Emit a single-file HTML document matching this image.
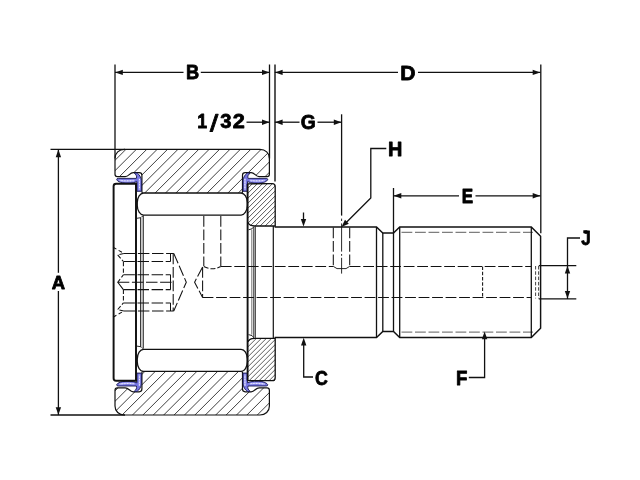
<!DOCTYPE html>
<html><head><meta charset="utf-8"><title>Cam follower dimensions</title>
<style>
html,body{margin:0;padding:0;background:#fff;}
body{width:640px;height:480px;overflow:hidden;font-family:"Liberation Sans",sans-serif;}
svg{display:block;will-change:transform;transform:translateZ(0);}
</style></head><body>
<svg role="img" aria-label="Cam follower dimension diagram: A, B, 1/32, C, D, E, F, G, H, J" width="640" height="480" viewBox="0 0 640 480">
<defs>
<clipPath id="cr1"><path d="M124.5,149.4 L259.9,149.4 C265.4,149.4 269.4,153 269.4,158.5 L269.4,174.2 Q269.4,176.6 267.1,176.6 L259.2,176.6 C255.4,176.6 254.9,172.6 251.1,172.6 L245.2,172.6 Q242.5,172.6 242.5,175.3 L242.5,192 Q242.5,193 241.4,193 L143,193 Q141.9,193 141.9,192 L141.9,175.3 Q141.9,172.6 139.2,172.6 L133.3,172.6 C129.5,172.6 129,176.6 125.2,176.6 L117.3,176.6 Q115,176.6 115,174.2 L115,158.5 C115,153 119,149.4 124.5,149.4 Z"/></clipPath>
<clipPath id="cr2"><path d="M124.5,415.0 L259.9,415.0 C265.4,415.0 269.4,411.4 269.4,405.9 L269.4,390.2 Q269.4,387.8 267.1,387.8 L259.2,387.8 C255.4,387.8 254.9,391.8 251.1,391.8 L245.2,391.8 Q242.5,391.8 242.5,389.1 L242.5,372.4 Q242.5,371.4 241.4,371.4 L143,371.4 Q141.9,371.4 141.9,372.4 L141.9,389.1 Q141.9,391.8 139.2,391.8 L133.3,391.8 C129.5,391.8 129,387.8 125.2,387.8 L117.3,387.8 Q115,387.8 115,390.2 L115,405.9 C115,411.4 119,415.0 124.5,415.0 Z"/></clipPath>
<clipPath id="cf1"><rect x="248" y="183.5" width="27.2" height="42.5"/></clipPath>
<clipPath id="cf2"><rect x="248" y="338.4" width="27.2" height="42.5"/></clipPath>
</defs>
<g clip-path="url(#cr1)" stroke="#2a2a2a" stroke-width="0.9"><line x1="50.10" y1="194" x2="96.10" y2="148"/><line x1="60.50" y1="194" x2="106.50" y2="148"/><line x1="70.90" y1="194" x2="116.90" y2="148"/><line x1="81.30" y1="194" x2="127.30" y2="148"/><line x1="91.70" y1="194" x2="137.70" y2="148"/><line x1="102.10" y1="194" x2="148.10" y2="148"/><line x1="112.50" y1="194" x2="158.50" y2="148"/><line x1="122.90" y1="194" x2="168.90" y2="148"/><line x1="133.30" y1="194" x2="179.30" y2="148"/><line x1="143.70" y1="194" x2="189.70" y2="148"/><line x1="154.10" y1="194" x2="200.10" y2="148"/><line x1="164.50" y1="194" x2="210.50" y2="148"/><line x1="174.90" y1="194" x2="220.90" y2="148"/><line x1="185.30" y1="194" x2="231.30" y2="148"/><line x1="195.70" y1="194" x2="241.70" y2="148"/><line x1="206.10" y1="194" x2="252.10" y2="148"/><line x1="216.50" y1="194" x2="262.50" y2="148"/><line x1="226.90" y1="194" x2="272.90" y2="148"/><line x1="237.30" y1="194" x2="283.30" y2="148"/><line x1="247.70" y1="194" x2="293.70" y2="148"/><line x1="258.10" y1="194" x2="304.10" y2="148"/><line x1="268.50" y1="194" x2="314.50" y2="148"/><line x1="278.90" y1="194" x2="324.90" y2="148"/><line x1="289.30" y1="194" x2="335.30" y2="148"/></g>
<g clip-path="url(#cr2)" stroke="#2a2a2a" stroke-width="0.9"><line x1="47.90" y1="416.4" x2="93.90" y2="370.4"/><line x1="58.30" y1="416.4" x2="104.30" y2="370.4"/><line x1="68.70" y1="416.4" x2="114.70" y2="370.4"/><line x1="79.10" y1="416.4" x2="125.10" y2="370.4"/><line x1="89.50" y1="416.4" x2="135.50" y2="370.4"/><line x1="99.90" y1="416.4" x2="145.90" y2="370.4"/><line x1="110.30" y1="416.4" x2="156.30" y2="370.4"/><line x1="120.70" y1="416.4" x2="166.70" y2="370.4"/><line x1="131.10" y1="416.4" x2="177.10" y2="370.4"/><line x1="141.50" y1="416.4" x2="187.50" y2="370.4"/><line x1="151.90" y1="416.4" x2="197.90" y2="370.4"/><line x1="162.30" y1="416.4" x2="208.30" y2="370.4"/><line x1="172.70" y1="416.4" x2="218.70" y2="370.4"/><line x1="183.10" y1="416.4" x2="229.10" y2="370.4"/><line x1="193.50" y1="416.4" x2="239.50" y2="370.4"/><line x1="203.90" y1="416.4" x2="249.90" y2="370.4"/><line x1="214.30" y1="416.4" x2="260.30" y2="370.4"/><line x1="224.70" y1="416.4" x2="270.70" y2="370.4"/><line x1="235.10" y1="416.4" x2="281.10" y2="370.4"/><line x1="245.50" y1="416.4" x2="291.50" y2="370.4"/><line x1="255.90" y1="416.4" x2="301.90" y2="370.4"/><line x1="266.30" y1="416.4" x2="312.30" y2="370.4"/><line x1="276.70" y1="416.4" x2="322.70" y2="370.4"/><line x1="287.10" y1="416.4" x2="333.10" y2="370.4"/></g>
<g clip-path="url(#cf1)" stroke="#484848" stroke-width="0.9"><line x1="194.10" y1="227" x2="238.10" y2="183"/><line x1="199.10" y1="227" x2="243.10" y2="183"/><line x1="204.10" y1="227" x2="248.10" y2="183"/><line x1="209.10" y1="227" x2="253.10" y2="183"/><line x1="214.10" y1="227" x2="258.10" y2="183"/><line x1="219.10" y1="227" x2="263.10" y2="183"/><line x1="224.10" y1="227" x2="268.10" y2="183"/><line x1="229.10" y1="227" x2="273.10" y2="183"/><line x1="234.10" y1="227" x2="278.10" y2="183"/><line x1="239.10" y1="227" x2="283.10" y2="183"/><line x1="244.10" y1="227" x2="288.10" y2="183"/><line x1="249.10" y1="227" x2="293.10" y2="183"/><line x1="254.10" y1="227" x2="298.10" y2="183"/><line x1="259.10" y1="227" x2="303.10" y2="183"/><line x1="264.10" y1="227" x2="308.10" y2="183"/><line x1="269.10" y1="227" x2="313.10" y2="183"/><line x1="274.10" y1="227" x2="318.10" y2="183"/><line x1="279.10" y1="227" x2="323.10" y2="183"/><line x1="284.10" y1="227" x2="328.10" y2="183"/></g>
<g clip-path="url(#cf2)" stroke="#484848" stroke-width="0.9"><line x1="193.35" y1="381.4" x2="237.35" y2="337.4"/><line x1="198.35" y1="381.4" x2="242.35" y2="337.4"/><line x1="203.35" y1="381.4" x2="247.35" y2="337.4"/><line x1="208.35" y1="381.4" x2="252.35" y2="337.4"/><line x1="213.35" y1="381.4" x2="257.35" y2="337.4"/><line x1="218.35" y1="381.4" x2="262.35" y2="337.4"/><line x1="223.35" y1="381.4" x2="267.35" y2="337.4"/><line x1="228.35" y1="381.4" x2="272.35" y2="337.4"/><line x1="233.35" y1="381.4" x2="277.35" y2="337.4"/><line x1="238.35" y1="381.4" x2="282.35" y2="337.4"/><line x1="243.35" y1="381.4" x2="287.35" y2="337.4"/><line x1="248.35" y1="381.4" x2="292.35" y2="337.4"/><line x1="253.35" y1="381.4" x2="297.35" y2="337.4"/><line x1="258.35" y1="381.4" x2="302.35" y2="337.4"/><line x1="263.35" y1="381.4" x2="307.35" y2="337.4"/><line x1="268.35" y1="381.4" x2="312.35" y2="337.4"/><line x1="273.35" y1="381.4" x2="317.35" y2="337.4"/><line x1="278.35" y1="381.4" x2="322.35" y2="337.4"/><line x1="283.35" y1="381.4" x2="327.35" y2="337.4"/></g>
<path d="M124.5,149.4 L259.9,149.4 C265.4,149.4 269.4,153 269.4,158.5 L269.4,174.2 Q269.4,176.6 267.1,176.6 L259.2,176.6 C255.4,176.6 254.9,172.6 251.1,172.6 L245.2,172.6 Q242.5,172.6 242.5,175.3 L242.5,192 Q242.5,193 241.4,193 L143,193 Q141.9,193 141.9,192 L141.9,175.3 Q141.9,172.6 139.2,172.6 L133.3,172.6 C129.5,172.6 129,176.6 125.2,176.6 L117.3,176.6 Q115,176.6 115,174.2 L115,158.5 C115,153 119,149.4 124.5,149.4 Z" stroke="#111" stroke-width="1.2" fill="none" />
<path d="M124.5,415.0 L259.9,415.0 C265.4,415.0 269.4,411.4 269.4,405.9 L269.4,390.2 Q269.4,387.8 267.1,387.8 L259.2,387.8 C255.4,387.8 254.9,391.8 251.1,391.8 L245.2,391.8 Q242.5,391.8 242.5,389.1 L242.5,372.4 Q242.5,371.4 241.4,371.4 L143,371.4 Q141.9,371.4 141.9,372.4 L141.9,389.1 Q141.9,391.8 139.2,391.8 L133.3,391.8 C129.5,391.8 129,387.8 125.2,387.8 L117.3,387.8 Q115,387.8 115,390.2 L115,405.9 C115,411.4 119,415.0 124.5,415.0 Z" stroke="#111" stroke-width="1.2" fill="none" />
<path d="M116.7,179.8 Q116.5,178.4 118.2,178.4 L136.3,178.4 C137.2,176.4 136,174.4 134.2,173 L137.2,173 C139.2,174.6 141.2,177.2 141.4,180.6 L141.4,191.3 L136.9,191.3 L136.9,181.6 C134,183.3 126,183.7 122.5,182.9 C120,182.3 117.6,181.4 116.7,179.8 Z" fill="#7676e2" stroke="#15154a" stroke-width="0.9" stroke-linejoin="round"/>
<path d="M120,180.4 Q127,181.6 134,180.6" stroke="#c9c9fb" stroke-width="1.5" stroke-linecap="round" fill="none" opacity="0.85"/>
<path d="M121.5,180.6 L133.5,181" stroke="#f2f2ff" stroke-width="0.9" stroke-dasharray="1.2 1.6" fill="none"/>
<path d="M139.4,178.5 L139.4,189.8" stroke="#c9c9fb" stroke-width="1.6" fill="none" opacity="0.7"/>
<path d="M139.5,179 L139.5,189.5" stroke="#f2f2ff" stroke-width="1.0" stroke-dasharray="1.1 1.5" fill="none"/>
<path d="M267.7,179.8 Q267.9,178.4 266.2,178.4 L248.1,178.4 C247.2,176.4 248.4,174.4 250.2,173 L247.2,173 C245.2,174.6 243.2,177.2 243.0,180.6 L243.0,191.3 L247.5,191.3 L247.5,181.6 C250.4,183.3 258.4,183.7 261.9,182.9 C264.4,182.3 266.8,181.4 267.7,179.8 Z" fill="#7676e2" stroke="#15154a" stroke-width="0.9" stroke-linejoin="round"/>
<path d="M264.4,180.4 Q257.4,181.6 250.4,180.6" stroke="#c9c9fb" stroke-width="1.5" stroke-linecap="round" fill="none" opacity="0.85"/>
<path d="M262.9,180.6 L250.9,181" stroke="#f2f2ff" stroke-width="0.9" stroke-dasharray="1.2 1.6" fill="none"/>
<path d="M245.0,178.5 L245.0,189.8" stroke="#c9c9fb" stroke-width="1.6" fill="none" opacity="0.7"/>
<path d="M244.9,179 L244.9,189.5" stroke="#f2f2ff" stroke-width="1.0" stroke-dasharray="1.1 1.5" fill="none"/>
<path d="M116.7,384.6 Q116.5,386.0 118.2,386.0 L136.3,386.0 C137.2,388.0 136,390.0 134.2,391.4 L137.2,391.4 C139.2,389.8 141.2,387.2 141.4,383.8 L141.4,373.1 L136.9,373.1 L136.9,382.8 C134,381.1 126,380.7 122.5,381.5 C120,382.1 117.6,383.0 116.7,384.6 Z" fill="#7676e2" stroke="#15154a" stroke-width="0.9" stroke-linejoin="round"/>
<path d="M120,384.0 Q127,382.8 134,383.8" stroke="#c9c9fb" stroke-width="1.5" stroke-linecap="round" fill="none" opacity="0.85"/>
<path d="M121.5,383.8 L133.5,383.4" stroke="#f2f2ff" stroke-width="0.9" stroke-dasharray="1.2 1.6" fill="none"/>
<path d="M139.4,385.9 L139.4,374.6" stroke="#c9c9fb" stroke-width="1.6" fill="none" opacity="0.7"/>
<path d="M139.5,385.4 L139.5,374.9" stroke="#f2f2ff" stroke-width="1.0" stroke-dasharray="1.1 1.5" fill="none"/>
<path d="M267.7,384.6 Q267.9,386.0 266.2,386.0 L248.1,386.0 C247.2,388.0 248.4,390.0 250.2,391.4 L247.2,391.4 C245.2,389.8 243.2,387.2 243.0,383.8 L243.0,373.1 L247.5,373.1 L247.5,382.8 C250.4,381.1 258.4,380.7 261.9,381.5 C264.4,382.1 266.8,383.0 267.7,384.6 Z" fill="#7676e2" stroke="#15154a" stroke-width="0.9" stroke-linejoin="round"/>
<path d="M264.4,384.0 Q257.4,382.8 250.4,383.8" stroke="#c9c9fb" stroke-width="1.5" stroke-linecap="round" fill="none" opacity="0.85"/>
<path d="M262.9,383.8 L250.9,383.4" stroke="#f2f2ff" stroke-width="0.9" stroke-dasharray="1.2 1.6" fill="none"/>
<path d="M245.0,385.9 L245.0,374.6" stroke="#c9c9fb" stroke-width="1.6" fill="none" opacity="0.7"/>
<path d="M244.9,385.4 L244.9,374.9" stroke="#f2f2ff" stroke-width="1.0" stroke-dasharray="1.1 1.5" fill="none"/>
<path d="M113.6,378.2 L113.6,186.2 Q113.6,183.7 116.1,183.7 L136,183.7 L136,380.7 L116.1,380.7 Q113.6,380.7 113.6,378.2" stroke="#111" stroke-width="1.95" fill="none" />
<rect x="137.3" y="193.0" width="110" height="22.0" rx="6.2" ry="9.6" fill="#fff" stroke="#111" stroke-width="1.25"/>
<rect x="137.3" y="349.4" width="110" height="22.0" rx="6.2" ry="9.6" fill="#fff" stroke="#111" stroke-width="1.25"/>
<path d="M136.8,218.3 Q141.5,218.5 143.6,215.4" stroke="#111" stroke-width="0.9" fill="none" />
<path d="M136.8,346.1 Q141.5,345.9 143.6,349.0" stroke="#111" stroke-width="0.9" fill="none" />
<rect x="140.6" y="217" width="2.7" height="130.4" fill="#dadada"/>
<line x1="140.6" y1="217.3" x2="140.6" y2="347.1" stroke="#111" stroke-width="0.9" />
<line x1="143.3" y1="216" x2="143.3" y2="348.4" stroke="#111" stroke-width="0.9" />
<line x1="247.6" y1="183.8" x2="247.6" y2="380.6" stroke="#111" stroke-width="1.9" />
<path d="M247.8,183.8 L272.2,183.7 Q275.2,183.7 275.2,186.7 L275.2,226 L254.5,226 Q249.2,225.8 247.9,222.6" stroke="#111" stroke-width="1.3" fill="none" />
<path d="M248.5,229.8 Q253,229.4 253.9,226.5" stroke="#111" stroke-width="0.9" fill="none" />
<path d="M247.8,380.6 L272.2,380.7 Q275.2,380.7 275.2,377.7 L275.2,338.4 L254.5,338.4 Q249.2,338.6 247.9,341.8" stroke="#111" stroke-width="1.3" fill="none" />
<path d="M248.5,334.6 Q253,335.0 253.9,337.9" stroke="#111" stroke-width="0.9" fill="none" />
<line x1="273.3" y1="226" x2="273.3" y2="338.4" stroke="#111" stroke-width="1.2" />
<line x1="251.8" y1="229.8" x2="251.8" y2="334.6" stroke="#111" stroke-width="0.6" />
<line x1="253.8" y1="227" x2="253.8" y2="337.4" stroke="#111" stroke-width="0.9" />
<line x1="255.3" y1="226.5" x2="255.3" y2="337.9" stroke="#111" stroke-width="0.9" />
<path d="M274.6,227.0 L376.5,227.0 L382.8,233.0 L393.5,233.0 L399.7,227.0 L531.3,227.0 L540.6,236.2 L540.6,328.2 L531.3,337.4 L399.7,337.4 L393.5,331.4 L382.8,331.4 L376.5,337.4 L274.6,337.4" stroke="#111" stroke-width="1.45" fill="none" />
<line x1="376.5" y1="227.0" x2="376.5" y2="337.4" stroke="#111" stroke-width="1.3" />
<line x1="382.8" y1="233.0" x2="382.8" y2="331.4" stroke="#111" stroke-width="1.3" />
<line x1="393.5" y1="233.0" x2="393.5" y2="331.4" stroke="#111" stroke-width="1.3" />
<line x1="399.7" y1="227.0" x2="399.7" y2="337.4" stroke="#111" stroke-width="1.3" />
<line x1="531.3" y1="227.0" x2="531.3" y2="337.4" stroke="#111" stroke-width="1.3" />
<line x1="401.5" y1="232.3" x2="533" y2="232.3" stroke="#111" stroke-width="0.85" stroke-dasharray="10.8 2.7" opacity="0.8"/>
<line x1="401.5" y1="332.1" x2="533" y2="332.1" stroke="#111" stroke-width="0.85" stroke-dasharray="10.8 2.7" opacity="0.8"/>
<line x1="220.8" y1="266.4" x2="333.3" y2="266.4" stroke="#111" stroke-width="1.05" stroke-dasharray="10.8 2.7"/>
<line x1="349.7" y1="266.4" x2="531" y2="266.4" stroke="#111" stroke-width="1.05" stroke-dasharray="10.8 2.7"/>
<line x1="202.6" y1="297.5" x2="531" y2="297.5" stroke="#111" stroke-width="1.05" stroke-dasharray="10.8 2.7"/>
<line x1="482.6" y1="266.4" x2="482.6" y2="298.0" stroke="#111" stroke-width="1.05" stroke-dasharray="3.5 1.8"/>
<line x1="535.6" y1="266" x2="535.6" y2="298.4" stroke="#111" stroke-width="0.8" stroke-dasharray="3.5 1.8"/>
<line x1="538.6" y1="266" x2="538.6" y2="298.4" stroke="#111" stroke-width="0.8" stroke-dasharray="3.5 1.8"/>
<path d="M202.6,266.9 L194.6,282.2 L202.6,297.5" stroke="#111" stroke-width="1.05" fill="none" stroke-dasharray="10.8 2.7"/>
<line x1="202.6" y1="266.9" x2="202.6" y2="297.5" stroke="#111" stroke-width="1.05" stroke-dasharray="10.8 2.7"/>
<line x1="203.8" y1="216" x2="203.8" y2="266" stroke="#111" stroke-width="1.05" stroke-dasharray="10.8 2.7"/>
<line x1="220.8" y1="216" x2="220.8" y2="266" stroke="#111" stroke-width="1.05" stroke-dasharray="10.8 2.7"/>
<path d="M203.8,266.5 Q212,271 220.8,266.5" stroke="#111" stroke-width="1.05" fill="none" stroke-dasharray="5 2"/>
<line x1="333.3" y1="227.5" x2="333.3" y2="266" stroke="#111" stroke-width="1.05" stroke-dasharray="10.8 2.7"/>
<line x1="349.7" y1="227.5" x2="349.7" y2="266" stroke="#111" stroke-width="1.05" stroke-dasharray="10.8 2.7"/>
<path d="M333.3,266.4 L337,268.6 L346,268.6 L349.7,266.4" stroke="#111" stroke-width="0.9" fill="none" />
<line x1="123.8" y1="253.4" x2="173.75" y2="253.4" stroke="#111" stroke-width="1.05" stroke-dasharray="11.5 2.6"/>
<line x1="123.4" y1="261.4" x2="170.6" y2="261.4" stroke="#111" stroke-width="1.05" stroke-dasharray="11.5 2.6"/>
<line x1="123.4" y1="274.8" x2="170.6" y2="274.8" stroke="#111" stroke-width="1.05" stroke-dasharray="11.5 2.6"/>
<line x1="117.8" y1="282.2" x2="173.2" y2="282.2" stroke="#111" stroke-width="1.05" stroke-dasharray="11.5 2.6"/>
<line x1="123.4" y1="289.6" x2="170.6" y2="289.6" stroke="#111" stroke-width="1.05" stroke-dasharray="11.5 2.6"/>
<line x1="123.4" y1="303.0" x2="170.6" y2="303.0" stroke="#111" stroke-width="1.05" stroke-dasharray="11.5 2.6"/>
<line x1="123.8" y1="311.0" x2="173.75" y2="311.0" stroke="#111" stroke-width="1.05" stroke-dasharray="11.5 2.6"/>
<line x1="173.2" y1="253.4" x2="173.2" y2="311.0" stroke="#111" stroke-width="1.05" stroke-dasharray="10.8 2.7"/>
<line x1="170.5" y1="253.4" x2="170.5" y2="261.4" stroke="#111" stroke-width="1.05" />
<line x1="170.5" y1="274.8" x2="170.5" y2="289.6" stroke="#111" stroke-width="1.05" />
<line x1="170.5" y1="303.0" x2="170.5" y2="311.0" stroke="#111" stroke-width="1.05" />
<line x1="123.4" y1="262" x2="123.4" y2="274.8" stroke="#111" stroke-width="1.05" stroke-dasharray="4.3 2.2"/>
<line x1="123.4" y1="289.6" x2="123.4" y2="302.4" stroke="#111" stroke-width="1.05" stroke-dasharray="4.3 2.2"/>
<path d="M173.75,253.4 L186.3,282.2 L173.75,311.0" stroke="#111" stroke-width="1.05" fill="none" stroke-dasharray="10.8 2.7"/>
<path d="M113.1,247.2 L123.8,253.4" stroke="#111" stroke-width="1.05" fill="none" stroke-dasharray="3.8 2.6"/>
<path d="M123.8,253.4 L117.6,254.8 L123.4,261.5" stroke="#111" stroke-width="1.05" fill="none" stroke-dasharray="4.5 2"/>
<path d="M113.1,317.2 L123.8,311.0" stroke="#111" stroke-width="1.05" fill="none" stroke-dasharray="3.8 2.6"/>
<path d="M123.8,311.0 L117.6,309.6 L123.4,302.9" stroke="#111" stroke-width="1.05" fill="none" stroke-dasharray="4.5 2"/>
<path d="M123.4,274.8 L117.8,282.2 L123.4,289.6" stroke="#111" stroke-width="1.05" fill="none" stroke-dasharray="3.2 2.2 20"/>
<line x1="341.6" y1="218.6" x2="341.6" y2="221" stroke="#111" stroke-width="0.9" />
<line x1="341.6" y1="223.4" x2="341.6" y2="251.6" stroke="#111" stroke-width="0.9" />
<line x1="341.6" y1="254" x2="341.6" y2="255.8" stroke="#111" stroke-width="0.9" />
<line x1="341.6" y1="257.8" x2="341.6" y2="273.6" stroke="#111" stroke-width="0.9" />
<line x1="50.5" y1="149.4" x2="125" y2="149.4" stroke="#111" stroke-width="1.3" />
<line x1="50.5" y1="415.0" x2="125" y2="415.0" stroke="#111" stroke-width="1.3" />
<line x1="58.4" y1="149.4" x2="58.4" y2="272.8" stroke="#111" stroke-width="1.3" />
<line x1="58.4" y1="291" x2="58.4" y2="415.0" stroke="#111" stroke-width="1.3" />
<polygon points="58.40,149.60 55.70,157.20 61.10,157.20" fill="#111"/>
<polygon points="58.40,414.80 55.70,407.20 61.10,407.20" fill="#111"/>
<line x1="115" y1="64.5" x2="115" y2="158.5" stroke="#111" stroke-width="1.3" />
<line x1="269.5" y1="64.5" x2="269.5" y2="158.5" stroke="#111" stroke-width="1.3" />
<line x1="115" y1="72.4" x2="183.5" y2="72.4" stroke="#111" stroke-width="1.3" />
<line x1="200.8" y1="72.4" x2="269.8" y2="72.4" stroke="#111" stroke-width="1.3" />
<polygon points="115.20,72.40 122.80,69.70 122.80,75.10" fill="#111"/>
<polygon points="269.60,72.40 262.00,69.70 262.00,75.10" fill="#111"/>
<line x1="275" y1="64.5" x2="275" y2="181.5" stroke="#111" stroke-width="1.4" />
<line x1="246.5" y1="122.2" x2="269.8" y2="122.2" stroke="#111" stroke-width="1.3" />
<polygon points="269.60,122.20 262.00,119.50 262.00,124.90" fill="#111"/>
<line x1="274.8" y1="122.2" x2="299.5" y2="122.2" stroke="#111" stroke-width="1.3" />
<line x1="317.5" y1="122.2" x2="341.6" y2="122.2" stroke="#111" stroke-width="1.3" />
<polygon points="275.00,122.20 282.60,119.50 282.60,124.90" fill="#111"/>
<polygon points="341.40,122.20 333.80,119.50 333.80,124.90" fill="#111"/>
<line x1="341.6" y1="114.3" x2="341.6" y2="215.6" stroke="#111" stroke-width="1.3" />
<line x1="540.8" y1="64.5" x2="540.8" y2="233.2" stroke="#111" stroke-width="1.3" />
<line x1="274.8" y1="72.4" x2="398" y2="72.4" stroke="#111" stroke-width="1.3" />
<line x1="418" y1="72.4" x2="540.5" y2="72.4" stroke="#111" stroke-width="1.3" />
<polygon points="275.00,72.40 282.60,69.70 282.60,75.10" fill="#111"/>
<polygon points="540.30,72.40 532.70,69.70 532.70,75.10" fill="#111"/>
<line x1="393.5" y1="188" x2="393.5" y2="233" stroke="#111" stroke-width="1.3" />
<line x1="393.5" y1="195.8" x2="459" y2="195.8" stroke="#111" stroke-width="1.3" />
<line x1="475.5" y1="195.8" x2="540.5" y2="195.8" stroke="#111" stroke-width="1.3" />
<polygon points="393.70,195.80 401.30,193.10 401.30,198.50" fill="#111"/>
<polygon points="540.30,195.80 532.70,193.10 532.70,198.50" fill="#111"/>
<path d="M386.3,148.5 L370.8,148.5 L370.8,198 L344.5,224.2" stroke="#111" stroke-width="1.3" fill="none" />
<polygon points="341.5,227.1 344.99,219.83 348.80,223.66" fill="#111"/>
<line x1="303.5" y1="212.5" x2="303.5" y2="222" stroke="#111" stroke-width="1.3" />
<polygon points="303.50,226.60 300.80,219.00 306.20,219.00" fill="#111"/>
<path d="M303.7,341.4 L303.7,377 L313,377" stroke="#111" stroke-width="1.3" fill="none" />
<polygon points="303.70,337.80 301.00,345.40 306.40,345.40" fill="#111"/>
<path d="M484.6,336 L484.6,377.5 L468.8,377.5" stroke="#111" stroke-width="1.3" fill="none" />
<polygon points="484.60,331.60 481.90,339.20 487.30,339.20" fill="#111"/>
<path d="M580,238 L567.5,238 L567.5,299" stroke="#111" stroke-width="1.3" fill="none" />
<line x1="538.8" y1="265.6" x2="576.3" y2="265.6" stroke="#111" stroke-width="1.3" />
<line x1="538.8" y1="298.8" x2="576.3" y2="298.8" stroke="#111" stroke-width="1.3" />
<polygon points="567.50,265.80 564.80,273.40 570.20,273.40" fill="#111"/>
<polygon points="567.50,298.60 564.80,291.00 570.20,291.00" fill="#111"/>
<g font-family="'Liberation Sans', sans-serif" font-weight="bold" font-size="20.0" fill="#000" stroke="#000" stroke-width="0.8" stroke-linejoin="round">
<text transform="matrix(0.9214 0 0 0.9616 51.810 289.015)">A</text>
<text transform="matrix(0.9117 0 0 0.9684 186.045 79.413)">B</text>
<text transform="matrix(0.8905 0 0 0.9684 197.134 128.113)">1</text>
<text transform="matrix(1.1200 0 -0.1700 1.1534 209.765 130.677)">/</text>
<text transform="matrix(1.0101 0 0 0.9740 220.340 128.192)">3</text>
<text transform="matrix(1.0835 0 0 0.9685 232.782 128.113)">2</text>
<text transform="matrix(0.9618 0 0 0.9759 300.846 129.219)">G</text>
<text transform="matrix(1.0524 0 0 0.9890 400.263 79.704)">D</text>
<text transform="matrix(0.9954 0 0 0.9822 388.066 155.607)">H</text>
<text transform="matrix(0.8527 0 0 0.9822 461.700 203.107)">E</text>
<text transform="matrix(0.8534 0 0 0.9827 581.333 244.615)">J</text>
<text transform="matrix(0.9318 0 0 0.9822 456.026 384.707)">F</text>
<text transform="matrix(0.8900 0 0 1.0027 315.026 384.803)">C</text>
<rect x="583.3" y="230.3" width="4" height="2.9" stroke="none"/>
</g>
</svg>
</body></html>
